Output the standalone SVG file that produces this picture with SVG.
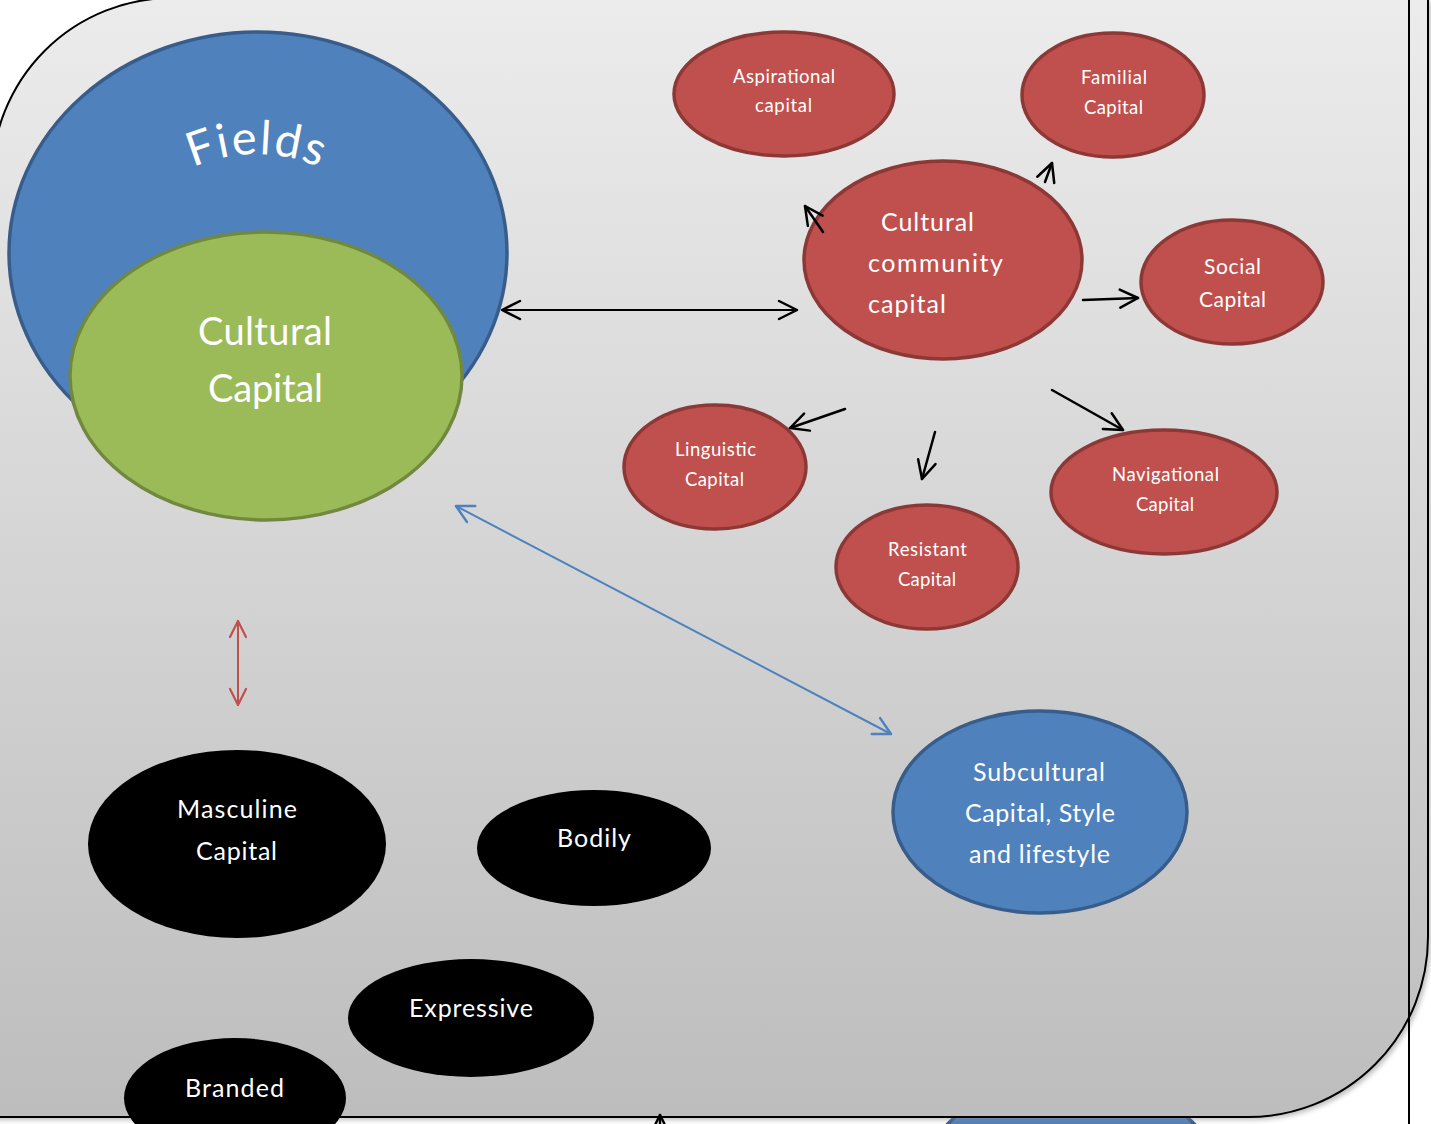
<svg xmlns="http://www.w3.org/2000/svg" width="1431" height="1124" viewBox="0 0 1431 1124">
<defs>
<linearGradient id="bg" x1="0" y1="0" x2="0" y2="1">
<stop offset="0" stop-color="#ececec"/>
<stop offset="1" stop-color="#bdbdbd"/>
</linearGradient>
<filter id="sh" x="-5%" y="-5%" width="110%" height="110%">
<feGaussianBlur stdDeviation="2.5"/>
</filter>
<path id="frame" d="M 172,-2 H 1428 V 937 A 180,180 0 0 1 1248,1117 H -8 V 178 A 180,180 0 0 1 172,-2 Z"/>
<marker id="ak" viewBox="-22 -12 24 24" markerWidth="24" markerHeight="24" refX="0" refY="0" orient="auto-start-reverse" markerUnits="userSpaceOnUse">
<path d="M-18,-9 L0,0 L-18,9" fill="none" stroke="#000" stroke-width="2.5" stroke-linecap="round" stroke-linejoin="round"/>
</marker>
<marker id="ar" viewBox="-22 -12 24 24" markerWidth="24" markerHeight="24" refX="0" refY="0" orient="auto-start-reverse" markerUnits="userSpaceOnUse">
<path d="M-16,-8 L0,0 L-16,8" fill="none" stroke="#c0504d" stroke-width="2.2" stroke-linecap="round" stroke-linejoin="round"/>
</marker>
<marker id="ab" viewBox="-22 -12 24 24" markerWidth="24" markerHeight="24" refX="0" refY="0" orient="auto-start-reverse" markerUnits="userSpaceOnUse">
<path d="M-17,-9 L0,0 L-17,9" fill="none" stroke="#4f81bd" stroke-width="2.5" stroke-linecap="round" stroke-linejoin="round"/>
</marker>
<path id="fieldsArc" d="M 101,309 A 155,155 0 0 1 411,309"/>
</defs>
<style>
.red{fill:#c0504d;stroke:#8c3836;stroke-width:3.5}
.blue{fill:#4f81bd;stroke:#385d8a;stroke-width:3.5}
.green{fill:#9bbb59;stroke:#71893f;stroke-width:3.5}
.blk{fill:#000}
text{font-family:Lato,"Open Sans","Liberation Sans",sans-serif;fill:#fff;text-anchor:middle}
.s18{font-size:18.5px}
.s21{font-size:21px}
.s25{font-size:25px}
.s38{font-size:38px}
.st{text-anchor:start}
</style>
<rect width="1431" height="1124" fill="#fff"/>
<ellipse cx="1071" cy="1179" rx="147" ry="101" class="blue"/>
<use href="#frame" x="3" y="3" fill="#888" opacity="0.55" filter="url(#sh)"/>
<use href="#frame" fill="url(#bg)" stroke="#000" stroke-width="2"/>
<line x1="1409" y1="0" x2="1409" y2="1124" stroke="#000" stroke-width="2"/>

<g id="fields">
<ellipse cx="258" cy="253" rx="249" ry="221" class="blue"/>
<text style="font-size:47px"><textPath href="#fieldsArc" startOffset="50%" textLength="130">Fields</textPath></text>
</g>
<g id="cultural-capital">
<ellipse cx="266" cy="376" rx="196" ry="144" class="green"/>
<text class="s38" x="265" y="345" textLength="134">Cultural</text>
<text class="s38" x="265.5" y="402" textLength="115">Capital</text>
</g>
<g id="cultural-community-capital">
<ellipse cx="943" cy="260" rx="139" ry="99" class="red"/>
<text class="s25 st" x="881" y="231" textLength="93">Cultural</text>
<text class="s25 st" x="868" y="272" textLength="135">community</text>
<text class="s25 st" x="868" y="313" textLength="78">capital</text>
</g>
<g id="aspirational-capital">
<ellipse cx="784" cy="94" rx="110" ry="62" class="red"/>
<text class="s18" x="784" y="83" textLength="102">Aspirational</text>
<text class="s18" x="783.5" y="112" textLength="57">capital</text>
</g>
<g id="familial-capital">
<ellipse cx="1113" cy="95" rx="91" ry="62" class="red"/>
<text class="s18" x="1114" y="84" textLength="66">Familial</text>
<text class="s18" x="1113.5" y="114" textLength="59">Capital</text>
</g>
<g id="social-capital">
<ellipse cx="1232" cy="282" rx="91" ry="62" class="red"/>
<text class="s21" x="1232.5" y="274" textLength="57">Social</text>
<text class="s21" x="1232.5" y="307" textLength="67">Capital</text>
</g>
<g id="linguistic-capital">
<ellipse cx="715" cy="467" rx="91" ry="62" class="red"/>
<text class="s18" x="715.5" y="456" textLength="81">Linguistic</text>
<text class="s18" x="714.5" y="486" textLength="59">Capital</text>
</g>
<g id="resistant-capital">
<ellipse cx="927" cy="567" rx="91" ry="62" class="red"/>
<text class="s18" x="927.5" y="556" textLength="79">Resistant</text>
<text class="s18" x="927" y="586" textLength="58">Capital</text>
</g>
<g id="navigational-capital">
<ellipse cx="1164" cy="492" rx="113" ry="62" class="red"/>
<text class="s18" x="1165.5" y="481" textLength="107">Navigational</text>
<text class="s18" x="1165" y="511" textLength="58">Capital</text>
</g>
<g id="subcultural-capital">
<ellipse cx="1040" cy="812" rx="147" ry="101" class="blue"/>
<text class="s25" x="1039" y="781" textLength="132">Subcultural</text>
<text class="s25" x="1040" y="822" textLength="150">Capital, Style</text>
<text class="s25" x="1039.5" y="863" textLength="141">and lifestyle</text>
</g>
<g id="masculine-capital">
<ellipse cx="237" cy="844" rx="149" ry="94" class="blk"/>
<text class="s25" x="237" y="818" textLength="120">Masculine</text>
<text class="s25" x="236.5" y="860" textLength="81">Capital</text>
</g>
<g id="bodily">
<ellipse cx="594" cy="848" rx="117" ry="58" class="blk"/>
<text class="s25" x="594" y="847" textLength="74">Bodily</text>
</g>
<g id="expressive">
<ellipse cx="471" cy="1018" rx="123" ry="59" class="blk"/>
<text class="s25" x="471" y="1017" textLength="124">Expressive</text>
</g>
<g id="branded">
<ellipse cx="235" cy="1098" rx="111" ry="60" class="blk"/>
<text class="s25" x="234.5" y="1097" textLength="99">Branded</text>
</g>

<g id="connectors" fill="none" stroke-linecap="round">
<line x1="502" y1="310" x2="797" y2="310" stroke="#000" stroke-width="2" marker-start="url(#ak)" marker-end="url(#ak)"/>
<line x1="238" y1="621" x2="238" y2="705" stroke="#c0504d" stroke-width="2" marker-start="url(#ar)" marker-end="url(#ar)"/>
<line x1="456" y1="506" x2="891" y2="734" stroke="#4f81bd" stroke-width="2" marker-start="url(#ab)" marker-end="url(#ab)"/>
<line x1="823" y1="232" x2="805" y2="206" stroke="#000" stroke-width="2.5" marker-end="url(#ak)"/>
<line x1="1045" y1="182" x2="1052" y2="163" stroke="#000" stroke-width="2.5" marker-end="url(#ak)"/>
<line x1="1083" y1="300" x2="1138" y2="298" stroke="#000" stroke-width="2.5" marker-end="url(#ak)"/>
<line x1="845" y1="409" x2="790" y2="428" stroke="#000" stroke-width="2.5" marker-end="url(#ak)"/>
<line x1="935" y1="432" x2="922" y2="479" stroke="#000" stroke-width="2.5" marker-end="url(#ak)"/>
<line x1="1052" y1="390" x2="1123" y2="430" stroke="#000" stroke-width="2.5" marker-end="url(#ak)"/>
<line x1="660" y1="1135" x2="660" y2="1115" stroke="#000" stroke-width="2.5" marker-end="url(#ak)"/>
</g>
</svg>
